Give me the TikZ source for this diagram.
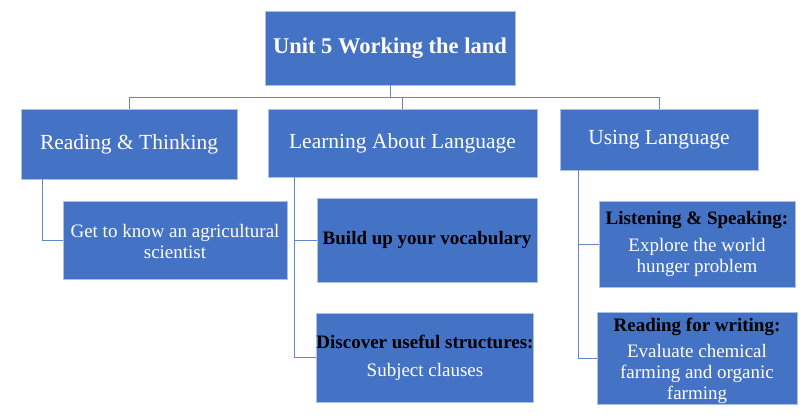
\documentclass[tikz,border=0pt]{standalone}
\usepackage{fontspec}
\setmainfont{LiberationSerif}[Extension=.ttf, UprightFont=*-Regular, BoldFont=*-Bold, ItalicFont=*-Italic, BoldItalicFont=*-BoldItalic]
\definecolor{myblue}{HTML}{4472C4}
\tikzset{
  box/.style={draw=myblue!45!white, line width=0.8pt, fill=myblue, inner sep=0pt, align=center, text=white},
  conn/.style={draw=myblue!85!white, line width=0.9pt},
  lvone/.style={font=\fontsize{21.5}{24}\selectfont},
  lvtwo/.style={font=\fontsize{19}{21}\selectfont},
}
\begin{document}
\begin{tikzpicture}[x=1pt,y=-1pt]
\useasboundingbox (0,0) rectangle (807,419);
% top
\node[box, font=\fontsize{22.5}{26}\selectfont\bfseries, minimum width=250pt, minimum height=74pt] (top) at (390,48)
  {Unit 5 Working the land};
% level 1
\node[box, lvone, minimum width=216pt, minimum height=70pt] (rt) at (129,144) {Reading \& Thinking};
\node[box, lvone, minimum width=269pt, minimum height=68pt] (la) at (402.5,143) {Learning About Language};
\node[box, lvone, minimum width=198pt, minimum height=61pt] (ul) at (659,139.5) {Using Language};
% level 2
\node[box, lvtwo, minimum width=224pt, minimum height=78pt] (gk) at (175,240)
  {\rule{0pt}{16pt}Get to know an agricultural\\scientist};
\node[box, lvtwo, minimum width=220pt, minimum height=84pt] (bu) at (427,240)
  {\bfseries\color{black}Build up your vocabulary};
\node[box, lvtwo, minimum width=216pt, minimum height=89pt] (ds) at (425,357.5)
  {\textcolor{black}{\bfseries Discover useful structures:}\\[7pt]Subject clauses};
\node[box, lvtwo, minimum width=196pt, minimum height=86pt] (ls) at (697,244)
  {\textcolor{black}{\bfseries Listening \& Speaking:}\\[6pt]Explore the world\\hunger problem};
\node[box, lvtwo, minimum width=200pt, minimum height=90pt] (rw) at (697,358)
  {\rule{0pt}{20pt}\textcolor{black}{\bfseries Reading for writing:}\\[5pt]Evaluate chemical\\farming and organic\\farming};
% connectors
\coordinate (bus) at (390,97);
\draw[conn] (top.south) -- (bus);
\draw[conn] (bus) -| (rt.north);
\draw[conn] (bus) -| (la.north);
\draw[conn] (bus) -| (ul.north);
\draw[conn] ([xshift=22pt]rt.south west) |- (gk.west);
\draw[conn] ([xshift=27pt]la.south west) |- (bu.west);
\draw[conn] ([xshift=27pt]la.south west) |- (ds.west);
\draw[conn] ([xshift=19pt]ul.south west) |- (ls.west);
\draw[conn] ([xshift=19pt]ul.south west) |- (rw.west);
\end{tikzpicture}
\end{document}
